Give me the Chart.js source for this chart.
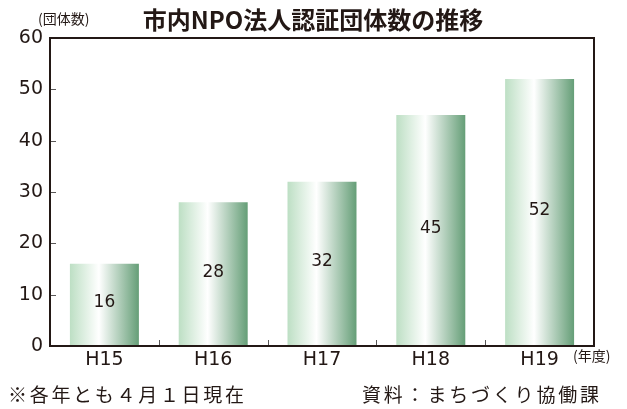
<!DOCTYPE html>
<html>
<head>
<meta charset="utf-8">
<script src="https://cdn.jsdelivr.net/npm/chart.js@4"></script>
<style>
  html, body { margin: 0; padding: 0; background: #fff; }
</style>
</head>
<body>
<canvas id="chart" width="627" height="409"></canvas>
<script>
const years = ['H15', 'H16', 'H17', 'H18', 'H19'];
const counts = [16, 28, 32, 45, 52];
const yTicks = [0, 10, 20, 30, 40, 50, 60];
const chartTitle = '市内NPO法人認証団体数の推移';
const yUnit = '(団体数)';
const xUnit = '(年度)';
const noteLeft = '※各年とも４月１日現在';
const noteRight = '資料：まちづくり協働課';

const ink = '#231815';
const jp = '"Noto Sans CJK JP", sans-serif';
const num = '"DejaVu Sans", sans-serif';
const barPct = 0.634;

// horizontal light-green -> white -> dark-green shading per bar
function barFill(c) {
  const x = c.chart.scales.x;
  if (!x || x.width == null) return '#a9cfb2';
  const cx = x.getPixelForValue(c.dataIndex);
  const w = x.width / years.length * barPct;
  const g = c.chart.ctx.createLinearGradient(cx - w / 2, 0, cx + w / 2, 0);
  g.addColorStop(0, '#bddfc4');
  g.addColorStop(0.42, '#ffffff');
  g.addColorStop(1, '#659e77');
  return g;
}

// draw text stretched with letter spacing to a given width
function spreadText(ctx, text, left, y, width) {
  const n = [...text].length;
  const w = ctx.measureText(text).width;
  const sp = Math.max(0, (width - w) / (n - 1));
  let cx = left;
  for (const ch of text) {
    ctx.fillText(ch, cx, y);
    cx += ctx.measureText(ch).width + sp;
  }
}

const decor = {
  id: 'decor',
  afterDatasetsDraw(chart) {
    const { ctx, chartArea: a, scales: { x, y } } = chart;
    ctx.save();
    // values inside bars
    ctx.fillStyle = ink;
    ctx.font = '17px ' + num;
    ctx.textAlign = 'center';
    ctx.textBaseline = 'middle';
    chart.getDatasetMeta(0).data.forEach((bar, i) => {
      ctx.fillText(String(counts[i]), bar.x, (bar.y + bar.base) / 2 - 2);
    });
    // inward tick marks
    ctx.strokeStyle = '#595757';
    ctx.lineWidth = 1;
    ctx.beginPath();
    yTicks.forEach(v => {
      const py = Math.round(y.getPixelForValue(v)) + 0.5;
      ctx.moveTo(a.left, py);
      ctx.lineTo(a.left + 6, py);
    });
    for (let i = 1; i < years.length; i++) {
      const px = Math.round((x.getPixelForValue(i - 1) + x.getPixelForValue(i)) / 2) + 0.5;
      ctx.moveTo(px, a.bottom);
      ctx.lineTo(px, a.bottom - 6);
    }
    ctx.stroke();
    // frame
    ctx.strokeStyle = ink;
    ctx.lineWidth = 2;
    ctx.strokeRect(a.left, a.top, a.right - a.left, a.bottom - a.top);
    ctx.restore();
  },
  afterDraw(chart) {
    const { ctx } = chart;
    ctx.save();
    ctx.fillStyle = ink;
    ctx.textBaseline = 'middle';
    ctx.textAlign = 'center';
    ctx.font = 'bold 24px ' + jp;
    ctx.fillText(chartTitle, 313, 20);
    ctx.textAlign = 'left';
    ctx.font = '14px ' + jp;
    ctx.fillText(yUnit, 38, 19);
    ctx.fillText(xUnit, 573, 356);
    ctx.font = '19px ' + jp;
    spreadText(ctx, noteLeft, 8, 395, 236);
    spreadText(ctx, noteRight, 362, 395, 237);
    ctx.restore();
  }
};

new Chart(document.getElementById('chart'), {
  type: 'bar',
  data: {
    labels: years,
    datasets: [{
      data: counts,
      backgroundColor: barFill,
      borderWidth: 0,
      categoryPercentage: 1,
      barPercentage: barPct
    }]
  },
  options: {
    responsive: false,
    animation: false,
    layout: { padding: { top: 38, right: 33, left: 0, bottom: 0 } },
    plugins: { legend: { display: false }, tooltip: { enabled: false } },
    scales: {
      x: {
        grid: { display: false, drawTicks: false },
        border: { display: false },
        ticks: { color: ink, font: { family: num, size: 19 }, padding: 3 },
        afterFit(s) { s.height = 63; }
      },
      y: {
        min: 0,
        max: 60,
        grid: { display: false, drawTicks: false },
        border: { display: false },
        ticks: { stepSize: 10, color: ink, font: { family: num, size: 19 }, padding: 7 },
        afterFit(s) { s.width = 50; }
      }
    }
  },
  plugins: [decor]
});
</script>
</body>
</html>
